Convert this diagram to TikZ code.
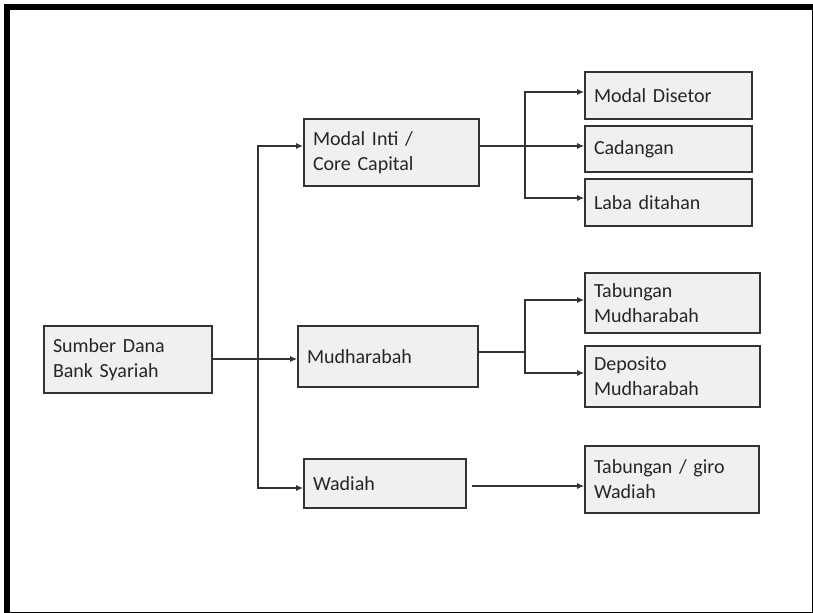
\documentclass[tikz,border=0pt]{standalone}
\usepackage{fontspec}
\setmainfont[WordSpace=0.75]{Carlito}
\usetikzlibrary{arrows.meta}

\tikzset{
  box/.style={draw=black!80, line width=0.85pt, fill=black!6, align=left,
    inner xsep=4.5pt, inner ysep=0pt, font=\fontsize{10}{12.5}\selectfont, text=black!85},
  arr/.style={-{Latex[length=3.5pt,width=3pt]}},
  garis/.style={draw=black!80, line width=0.85pt}
}

\begin{document}
\begin{tikzpicture}[x=0.5pt, y=-0.5pt]
\useasboundingbox (0,0) rectangle (813,613);
\draw[line width=3pt] (7,7) rectangle (815,615);

% left and middle column
\node[box, text width=75pt, minimum height=33.5pt] (sumber) at (128,359.5) {Sumber Dana\\Bank Syariah};
\node[box, text width=78.5pt, minimum height=33.5pt] (inti) at (391.5,152.5) {Modal Inti /\\Core Capital};
\node[box, text width=81pt, minimum height=30.5pt] (mudh) at (388,356.5) {Mudharabah};
\node[box, text width=72pt, minimum height=24.5pt] (wadiah) at (385,483.5) {Wadiah};

% right column
\node[box, text width=74.5pt, minimum height=23.5pt] (disetor) at (668.5,95.5) {Modal Disetor};
\node[box, text width=74.5pt, minimum height=23pt] (cadangan) at (668.5,149) {Cadangan};
\node[box, text width=74.5pt, minimum height=23.5pt] (laba) at (668.5,202.5) {Laba ditahan};
\node[box, text width=78.5pt, minimum height=30pt] (tabmudh) at (672.5,303) {Tabungan\\Mudharabah};
\node[box, text width=78.5pt, minimum height=30.5pt] (deposito) at (672.5,376.5) {Deposito\\Mudharabah};
\node[box, text width=78pt, minimum height=33.5pt] (tabwad) at (672,479.5) {Tabungan / giro\\Wadiah};

% connectors
\coordinate (c0) at (258,359);
\draw[garis, arr] (sumber.east |- c0) -- (mudh.west |- c0);
\draw[garis, arr] (c0) |- ([yshift=3.25pt]inti.west);
\draw[garis, arr] (c0) |- ([yshift=-2.25pt]wadiah.west);

\coordinate (c1) at (525,146);
\draw[garis, arr] (inti.east |- c1) -- (cadangan.west |- c1);
\draw[garis, arr] (c1) |- ([yshift=1.75pt]disetor.west);
\draw[garis, arr] (c1) |- ([yshift=2.25pt]laba.west);

\coordinate (c2) at (525,352);
\draw[garis] (mudh.east |- c2) -- (c2);
\draw[garis, arr] (c2) |- ([yshift=1.5pt]tabmudh.west);
\draw[garis, arr] (c2) |- ([yshift=1.75pt]deposito.west);

\coordinate (c3) at (472,486);
\draw[garis, arr] (c3) -- (tabwad.west |- c3);
\end{tikzpicture}
\end{document}
